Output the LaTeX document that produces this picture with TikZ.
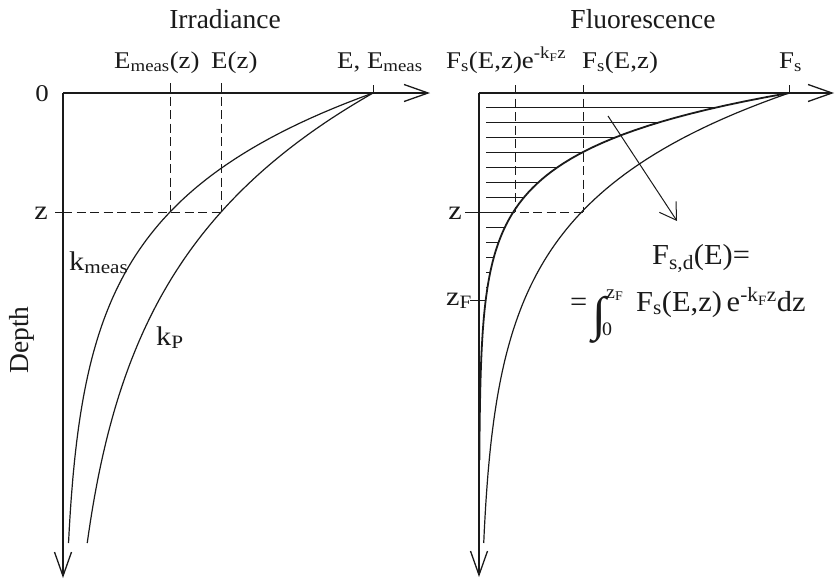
\documentclass[tikz,border=0pt]{standalone}
\usepackage{fontspec}
\setmainfont{Liberation Serif}
\newfontfamily\labfont[FakeStretch=1.12]{Liberation Serif}
\newfontfamily\formfont[FakeStretch=1.05]{Liberation Serif}
\usepackage{tikz}
\usetikzlibrary{arrows.meta}
\definecolor{DiagInk}{HTML}{1A1A1A}

\begin{document}
\begin{tikzpicture}[x=1pt, y=-1pt, DiagInk,
  axis/.style={line width=1.8pt, -{Straight Barb[length=24pt,width=17pt,line width=1.3pt]}},
  curve/.style={line width=1.2pt},
  guide/.style={line width=1pt, dash pattern=on 9pt off 4.5pt},
  lbl/.style={inner sep=0pt, font=\labfont\fontsize{24}{28}\selectfont},
  big/.style={inner sep=0pt, font=\labfont\fontsize{27}{30}\selectfont},
  ttl/.style={inner sep=0pt, font=\fontsize{27.5}{30}\selectfont}]
\useasboundingbox (0,0) rectangle (835,581);

% Irradiance panel: axes
\draw[axis] (63,93) -- (430,93);
\draw[axis] (63,93) -- (63,578);
\draw[line width=1pt] (373,85) -- (373,93);
\draw[line width=1pt] (55,212) -- (63,212);

% Guide lines at depth z
\draw[guide] (170,83) -- (170,212);
\draw[guide] (221,83) -- (221,212);
\draw[guide] (63,212) -- (221,212);

% Attenuation curves
\draw[curve] plot[domain=93:543, samples=90, variable=\t] ({63+310*exp(-0.00894*(\t-93))},\t);
\draw[curve] plot[domain=93:543, samples=90, variable=\t] ({63+310*exp(-0.00566*(\t-93))},\t);

% Labels
\node[ttl, anchor=base] (irr) at (225,28) {Irradiance};
\node[lbl, anchor=base west] (emz) at (114,68) {E\textsubscript{meas}(z)};
\node[lbl, anchor=base west] (ez) at (211,68) {E(z)};
\node[lbl, anchor=base west] (eem) at (337,68) {E, E\textsubscript{meas}};
\node[lbl, anchor=base] (zero) at (42,101) {0};
\node[big, anchor=base] (zl) at (41,219) {z};
\node[big, anchor=base west] (km) at (69,270) {k\textsubscript{meas}};
\node[big, anchor=base west] (kp) at (156,345) {k\textsubscript{P}};
\node[ttl, rotate=90] (dep) at (22,340) {Depth};

% Fluorescence panel: axes
\draw[axis] (479,93) -- (834,93);
\draw[axis] (479,93) -- (479,577);
\draw[line width=1pt] (789,85) -- (789,93);
\draw[line width=1pt] (465,212) -- (479,212);
\draw[line width=1pt] (470,300) -- (485,300);

% Hatching down to z_F
\foreach \i in {0,...,12}
{
  \pgfmathsetmacro{\yy}{107+15*\i}
  \draw[line width=1pt] (486,\yy) -- ({479+310*exp(-0.0185*(\yy-93))},\yy);
}

% Guide lines at depth z
\draw[guide] (515,85) -- (515,212);
\draw[guide] (583,85) -- (583,212);
\draw[guide] (479,212) -- (583,212);

% Emission curves
\draw[line width=1.8pt] plot[domain=93:460, samples=90, variable=\t] ({479+310*exp(-0.0185*(\t-93))},\t);
\draw[curve] plot[domain=93:543, samples=90, variable=\t] ({479+310*exp(-0.0093*(\t-93))},\t);

% Pointer to the integral
\coordinate (ptA) at (608,116);
\coordinate (ptB) at (677,221);
\draw[line width=1pt, -{Straight Barb[length=16pt,width=20pt]}] (ptA) -- (ptB);

% Labels
\node[ttl, anchor=base] (flu) at (643,28) {Fluorescence};
\node[lbl, anchor=base west] (fse) at (446,68) {F\textsubscript{s}(E,z)e\textsuperscript{-k\textsubscript{F}z}};
\node[lbl, anchor=base west] (fsz) at (582,68) {F\textsubscript{s}(E,z)};
\node[lbl, anchor=base west] (fs) at (779,68) {F\textsubscript{s}};
\node[big, anchor=base] (zr) at (455,219) {z};
\node[big, anchor=base west] (zf) at (446,305) {z\textsubscript{F}};
\node[inner sep=0pt, anchor=base west, font=\formfont\fontsize{29}{34}\selectfont] (fsd) at (652,264) {F\textsubscript{s,d}(E)=};
\node[inner sep=0pt, anchor=base west, font=\formfont\fontsize{29}{34}\selectfont] (intg) at (570,311)
  {=\hspace{5pt}\raisebox{-19pt}{\fontsize{48}{48}\selectfont ∫}\makebox[0pt][l]{\raisebox{13pt}{\fontsize{19}{19}\selectfont z\textsubscript{F}}}\makebox[0pt][l]{\hspace{-4pt}\raisebox{-24pt}{\fontsize{19}{19}\selectfont 0}}\hspace{30pt}F\textsubscript{s}(E,z)\,e\textsuperscript{-k\textsubscript{F}z}dz};
\end{tikzpicture}
\end{document}
